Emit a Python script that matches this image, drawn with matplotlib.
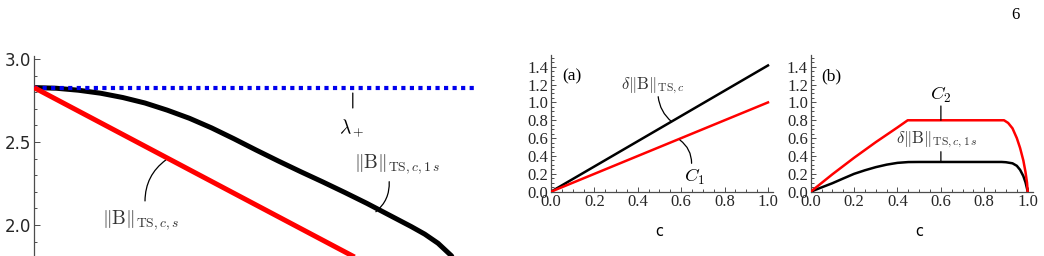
import matplotlib
matplotlib.use('Agg')
import matplotlib.pyplot as plt
from matplotlib.ticker import MultipleLocator

plt.rcParams['mathtext.fontset'] = 'cm'

# ---- data ----
# left panel: norms vs c
c_left = [0.0, 1.0]
lambda_plus = [2.828, 2.828]
norm_ts_cs = [2.828, 1.414]
c_1s = [0.0, 0.05, 0.1, 0.15, 0.2, 0.25, 0.3, 0.35, 0.4, 0.45, 0.5, 0.55,
        0.6, 0.65, 0.7, 0.75, 0.8, 0.85, 0.88, 0.91, 0.94, 0.97, 1.0]
norm_ts_c1s = [2.828, 2.824, 2.812, 2.794, 2.768, 2.735, 2.692, 2.643, 2.585,
               2.52, 2.452, 2.386, 2.322, 2.26, 2.196, 2.13, 2.06, 1.99,
               1.945, 1.89, 1.815, 1.69, 1.45]

# panel (a)
c_a = [0.0, 1.0]
delta_ts_c = [0.0, 1.414]
C1 = [0.0, 1.0]

# panel (b)
c_b_red = [0.0, 0.1, 0.2, 0.3, 0.4, 0.447, 0.891, 0.91, 0.93, 0.95, 0.965,
           0.98, 0.99, 0.997, 1.0]
C2 = [0.0, 0.195, 0.38, 0.555, 0.72, 0.8, 0.8, 0.77, 0.71, 0.6, 0.49, 0.35,
      0.22, 0.1, 0.0]
c_b_blk = [0.0, 0.05, 0.1, 0.15, 0.2, 0.25, 0.3, 0.35, 0.4, 0.45, 0.5, 0.88,
           0.9, 0.93, 0.95, 0.965, 0.98, 0.99, 0.997, 1.0]
delta_ts_c1s = [0.0, 0.048, 0.095, 0.148, 0.2, 0.24, 0.275, 0.303, 0.323,
                0.332, 0.333, 0.333, 0.33, 0.318, 0.29, 0.245, 0.175, 0.105,
                0.035, 0.0]

# tick values / labels of the small panels
x_ticks = [0.0, 0.2, 0.4, 0.6, 0.8, 1.0]
y_ticks = [0.0, 0.2, 0.4, 0.6, 0.8, 1.0, 1.2, 1.4]

axis_col = '0.3'
serif = 'Liberation Serif'

W, H = 1044, 256
fig = plt.figure(figsize=(W / 100, H / 100), dpi=100)


def px_axes(left, top_px, right, bottom_px):
    # pixel box -> figure fraction
    return fig.add_axes([left / W, 1 - bottom_px / H,
                         (right - left) / W, (bottom_px - top_px) / H])


def style(ax):
    for s in ['top', 'right']:
        ax.spines[s].set_visible(False)
    for s in ['left', 'bottom']:
        ax.spines[s].set_color(axis_col)
        ax.spines[s].set_linewidth(0.9)
    ax.tick_params(which='both', direction='in', color=axis_col, width=0.7,
                   labelcolor='0.15')
    ax.tick_params(which='major', length=3.5)
    ax.tick_params(which='minor', length=2)


def leader(ax, x0, y0, x1, y1, rad=0.0):
    ax.annotate('', xy=(x1, y1), xytext=(x0, y0),
                arrowprops=dict(arrowstyle='-', color='black', lw=0.9,
                                shrinkA=0, shrinkB=0,
                                connectionstyle='arc3,rad=%g' % rad))


# ---------------- left panel ----------------
ax = px_axes(34, 55.7, 478, 324.6)
style(ax)
ax.set_xlim(0, 1)
ax.set_ylim(1.4, 3.02)
ax.plot(c_1s, norm_ts_c1s, color='black', lw=3.6, zorder=2,
        solid_capstyle='butt')
ax.plot(c_left, lambda_plus, color='#0000ee', lw=3.0, ls=(0, (1, 1.05)),
        dash_capstyle='butt', zorder=3)
ax.plot(c_left, norm_ts_cs, color='#ff0000', lw=3.6, zorder=4,
        solid_capstyle='butt')
ax.set_yticks([2.0, 2.5, 3.0])
ax.yaxis.set_minor_locator(MultipleLocator(0.1))
ax.xaxis.set_minor_locator(MultipleLocator(0.05))
ax.tick_params(which='major', length=4.5, labelsize=12, pad=2)
ax.tick_params(which='minor', length=2.5)
# x tick labels fall below the cropped page
ax.tick_params(axis='x', labelbottom=False)

ax.text(0.716, 2.584, r'$\lambda_+$', fontsize=14, ha='center', va='center')
leader(ax, 0.718, 2.795, 0.718, 2.705)
ax.text(0.241, 2.03, r'$\Vert\mathrm{B}\Vert_{\mathrm{TS},c,s}$', fontsize=14,
        ha='center', va='center', color='0.2')
leader(ax, 0.25, 2.145, 0.297, 2.392, rad=-0.25)
ax.text(0.817, 2.365, r'$\Vert\mathrm{B}\Vert_{\mathrm{TS},c,1\,s}$',
        fontsize=14, ha='center', va='center', color='0.2')
leader(ax, 0.80, 2.261, 0.77, 2.08, rad=-0.25)


# ---------------- small panels ----------------
def small(left_px):
    a = px_axes(left_px, 55.1, left_px + 222.4, 191.7)
    style(a)
    a.set_xlim(0, 1.025)
    a.set_ylim(0, 1.53)
    a.set_xticks(x_ticks, ['%.1f' % v for v in x_ticks],
                 fontfamily=serif, fontsize=12)
    a.set_yticks(y_ticks, ['%.1f' % v for v in y_ticks],
                 fontfamily=serif, fontsize=12)
    a.xaxis.set_minor_locator(MultipleLocator(0.05))
    a.yaxis.set_minor_locator(MultipleLocator(0.05))
    a.tick_params(pad=2)
    a.set_xlabel('c', fontsize=10.5)
    a.xaxis.set_label_coords(0.5 / 1.025, -0.235)
    return a


axa = small(551)
axa.plot(c_a, delta_ts_c, color='black', lw=1.8, zorder=3)
axa.plot(c_a, C1, color='#ff0000', lw=1.8, zorder=3)
axa.text(0.097, 1.288, '(a)', fontsize=12.5, family=serif, ha='center',
         va='center')
axa.text(0.47, 1.19, r'$\delta\Vert\mathrm{B}\Vert_{\mathrm{TS},c}$',
         fontsize=12, ha='center', va='center', color='0.2')
leader(axa, 0.494, 1.064, 0.556, 0.784, rad=0.2)
axa.text(0.66, 0.165, r'$C_1$', fontsize=13.5, ha='center', va='center')
leader(axa, 0.648, 0.318, 0.594, 0.579, rad=0.25)

axb = small(810.7)
axb.plot(c_b_blk, delta_ts_c1s, color='black', lw=1.8, zorder=3)
axb.plot(c_b_red, C2, color='#ff0000', lw=1.8, zorder=3)
axb.text(0.096, 1.288, '(b)', fontsize=12.5, family=serif, ha='center',
         va='center')
axb.text(0.6, 1.085, r'$C_2$', fontsize=13.5, ha='center', va='center')
leader(axb, 0.6, 0.96, 0.6, 0.80)
axb.text(0.583, 0.58, r'$\delta\Vert\mathrm{B}\Vert_{\mathrm{TS},c,1\,s}$',
         fontsize=12, ha='center', va='center', color='0.2')
leader(axb, 0.6, 0.448, 0.6, 0.333)

fig.text(1015 / W, 1 - 15 / H, '6', fontsize=12, family=serif,
         ha='center', va='center')

fig.savefig('out.png', dpi=100)
